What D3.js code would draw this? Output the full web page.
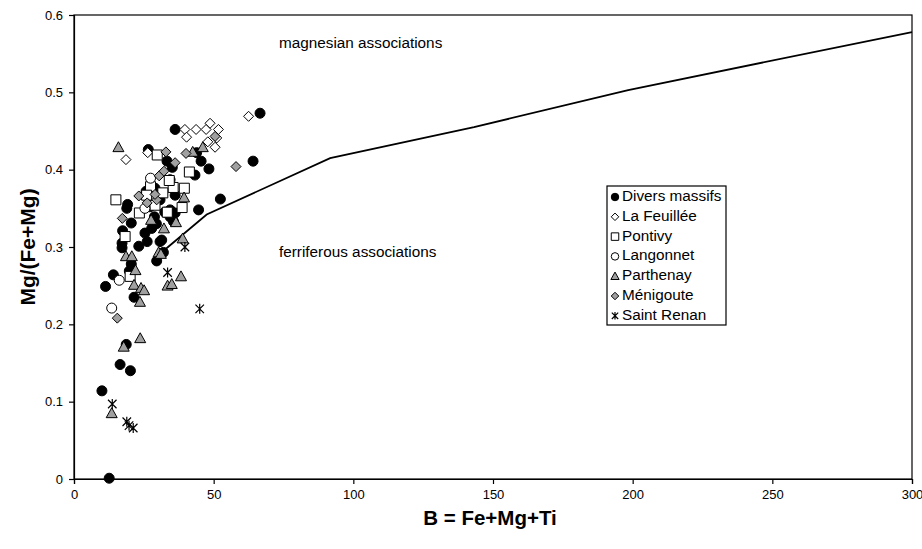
<!DOCTYPE html>
<html><head><meta charset="utf-8">
<script src="https://cdn.jsdelivr.net/npm/d3@7"></script>
<style>body{margin:0;background:#fff;}svg{display:block;font-family:Arial,"Liberation Sans",sans-serif;}</style>
</head><body><svg id="c" width="922" height="549"></svg>
<script>
const seriesNames = ["Divers massifs","La Feuillée","Pontivy","Langonnet","Parthenay","Ménigoute","Saint Renan"];
const diversMassifs = [[12.6,0.001],[10.0,0.114],[16.5,0.148],[20.2,0.140],[18.7,0.174],[11.3,0.249],[14.1,0.264],[21.5,0.235],[17.2,0.305],[17.2,0.299],[23.2,0.301],[26.2,0.307],[30.8,0.307],[32.0,0.293],[29.6,0.282],[19.8,0.269],[20.5,0.278],[17.4,0.321],[20.5,0.331],[18.9,0.350],[19.2,0.355],[25.4,0.318],[27.8,0.324],[28.8,0.339],[29.0,0.376],[25.8,0.372],[26.6,0.426],[33.3,0.411],[36.2,0.452],[43.9,0.422],[45.5,0.411],[48.3,0.401],[35.2,0.403],[43.3,0.393],[34.4,0.387],[36.2,0.367],[52.4,0.362],[44.6,0.348],[34.4,0.339],[35.6,0.333],[36.2,0.344],[34.4,0.348],[31.4,0.309],[64.1,0.411],[66.6,0.473],[27.2,0.352],[30.8,0.361],[32.5,0.345],[29.5,0.330]];
const laFeuillee = [[18.6,0.413],[26.4,0.422],[39.7,0.452],[40.3,0.442],[43.7,0.452],[47.3,0.452],[48.7,0.460],[51.7,0.452],[51.1,0.441],[47.9,0.436],[50.5,0.429],[62.5,0.469]];
const pontivy = [[15.0,0.361],[29.8,0.419],[41.3,0.397],[27.4,0.378],[35.5,0.377],[39.5,0.376],[34.1,0.386],[31.8,0.370],[23.4,0.344],[38.7,0.351],[33.4,0.345],[29.0,0.354],[18.3,0.3135],[20.1,0.262],[26.0,0.367]];
const langonnet = [[27.4,0.389],[16.2,0.257],[13.5,0.221],[25.4,0.350]];
const parthenay = [[13.5,0.085],[17.8,0.171],[23.7,0.182],[18.6,0.288],[20.7,0.288],[22.0,0.270],[21.5,0.251],[24.0,0.247],[25.1,0.244],[23.6,0.229],[30.3,0.293],[31.1,0.291],[33.5,0.250],[35.0,0.252],[38.3,0.262],[38.9,0.311],[36.5,0.332],[32.2,0.324],[39.4,0.364],[27.6,0.335],[15.9,0.429],[42.5,0.423],[46.1,0.429]];
const menigoute = [[15.5,0.208],[17.3,0.337],[23.2,0.366],[26.2,0.357],[29.6,0.361],[30.5,0.392],[32.9,0.423],[40.1,0.421],[36.2,0.409],[32.2,0.398],[50.5,0.443],[58.0,0.404],[29.0,0.368]];
const saintRenan = [[13.7,0.097],[18.9,0.074],[19.7,0.069],[21.2,0.066],[33.5,0.267],[39.7,0.300],[45.0,0.220]];
const boundary = [[31.0,0.292],[47.5,0.342],[91.7,0.415],[143.2,0.455],[198.4,0.503],[300,0.578]];
const xTicks = [0,50,100,150,200,250,300];
const yTicks = [0,0.1,0.2,0.3,0.4,0.5,0.6];
const annotations = [{text:"magnesian associations",x:73.4,y:0.563},{text:"ferriferous associations",x:73.4,y:0.292}];

const svg = d3.select("#c");
const L=74,T=15,R=912,B=479;
const x = d3.scaleLinear().domain([0,300]).range([L,R]);
const y = d3.scaleLinear().domain([0,0.6]).range([B,T]);

svg.append("rect").attr("x",L).attr("y",T).attr("width",R-L).attr("height",B-T).attr("fill","none").attr("stroke","#000").attr("stroke-width",1.2);

const xa = svg.append("g").attr("transform",`translate(0,${B})`).call(d3.axisBottom(x).tickValues(xTicks).tickSize(5).tickPadding(6).tickFormat(d3.format("d")));
const ya = svg.append("g").attr("transform",`translate(${L},0)`).call(d3.axisLeft(y).tickValues(yTicks).tickSize(5).tickPadding(6).tickFormat(d=>d===0?"0":d3.format(".1f")(d)));
[xa,ya].forEach(a=>{a.selectAll("text").attr("font-size",13).attr("font-family","Arial, Liberation Sans").attr("fill","#000");a.selectAll("line,path").attr("stroke","#000").attr("stroke-width",1.2);});

svg.append("path").datum(boundary).attr("fill","none").attr("stroke","#000").attr("stroke-width",1.8)
  .attr("d",d3.line().x(d=>x(d[0])).y(d=>y(d[1])));

annotations.forEach(a=>svg.append("text").attr("x",x(a.x)).attr("y",y(a.y)).attr("font-size",15.3).attr("text-anchor","start").attr("dominant-baseline","middle").text(a.text));

const grey="#a0a0a0";
const styles = [
  {sym:"circle",r:5,fill:"#000"},
  {sym:"diamond",r:5,fill:"#fff"},
  {sym:"square",r:5,fill:"#fff"},
  {sym:"circle",r:5,fill:"#fff"},
  {sym:"triangle",r:5.5,fill:grey},
  {sym:"diamond",r:5,fill:grey},
  {sym:"star",r:5,fill:"none"}
];
const allData=[diversMassifs,laFeuillee,pontivy,langonnet,parthenay,menigoute,saintRenan];

function drawMark(g,st,scale){
  const r=st.r*scale;
  let d;
  if(st.sym==="circle"){g.append("circle").attr("r",r).attr("fill",st.fill).attr("stroke","#000").attr("stroke-width",1);return;}
  if(st.sym==="diamond") d=`M0,${-r}L${r},0L0,${r}L${-r},0Z`;
  if(st.sym==="square") d=`M${-r},${-r}H${r}V${r}H${-r}Z`;
  if(st.sym==="triangle") d=`M0,${-r}L${r},${r*0.8}L${-r},${r*0.8}Z`;
  if(st.sym==="star"){
    const a=r*0.85;
    g.append("path").attr("d",`M0,${-r}V${r}M${-a},${-a}L${a},${a}M${-a},${a}L${a},${-a}`).attr("stroke","#000").attr("stroke-width",1.2).attr("fill","none");
    return;
  }
  g.append("path").attr("d",d).attr("fill",st.fill).attr("stroke","#000").attr("stroke-width",1);
}
allData.forEach((data,i)=>{
  const g=svg.append("g");
  data.forEach(d=>{const m=g.append("g").attr("transform",`translate(${x(d[0])},${y(d[1])})`);drawMark(m,styles[i],1);});
});

const lg=svg.append("g").attr("transform","translate(607,186)");
lg.append("rect").attr("width",119).attr("height",139).attr("fill","#fff").attr("stroke","#000").attr("stroke-width",1.2);
seriesNames.forEach((n,i)=>{
  const yy=11+i*19.8;
  const m=lg.append("g").attr("transform",`translate(8,${yy})`);drawMark(m,styles[i],0.75);
  lg.append("text").attr("x",15).attr("y",yy).attr("dominant-baseline","middle").attr("font-size",15.3).text(n);
});

svg.append("text").attr("x",490).attr("y",525).attr("text-anchor","middle").attr("font-size",20.5).attr("font-weight","bold").text("B = Fe+Mg+Ti");
svg.append("text").attr("transform","translate(35,247) rotate(-90)").attr("text-anchor","middle").attr("font-size",21).attr("font-weight","bold").text("Mg/(Fe+Mg)");
</script></body></html>
